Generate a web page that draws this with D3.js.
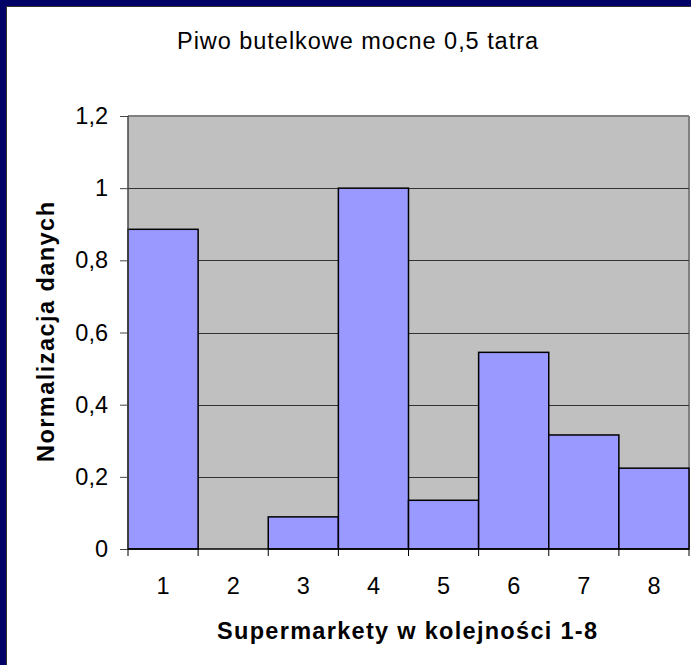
<!DOCTYPE html>
<html><head><meta charset="utf-8">
<script src="https://cdn.jsdelivr.net/npm/d3@7"></script>
<style>body{margin:0;padding:0;background:#fff;overflow:hidden}</style>
</head><body>
<svg id="c" width="691" height="665"></svg>
<script>
const categories = ["1","2","3","4","5","6","7","8"];
const values = [0.886, 0, 0.089, 1.0, 0.135, 0.545, 0.316, 0.224];
const yTicks = [0, 0.2, 0.4, 0.6, 0.8, 1.0, 1.2];
const title = "Piwo butelkowe mocne 0,5 tatra";
const xTitle = "Supermarkety w kolejności 1-8";
const yTitle = "Normalizacja danych";

const svg = d3.select("#c");
const font = "Arial, 'Liberation Sans', sans-serif";
svg.append("rect").attr("x",0).attr("y",0).attr("width",691).attr("height",665).attr("fill","#000066");
svg.append("rect").attr("x",6.5).attr("y",6.5).attr("width",700).attr("height",700).attr("fill","#fff").attr("stroke","#333").attr("stroke-width",1);

const L=128, R=689, T=116, B=549;
const x = d3.scaleBand().domain(categories).range([L,R]).padding(0);
const y = d3.scaleLinear().domain([0,1.2]).range([B,T]);

svg.append("rect").attr("x",L).attr("y",T).attr("width",R-L).attr("height",B-T).attr("fill","#C0C0C0");
svg.append("line").attr("x1",L).attr("x2",R).attr("y1",T).attr("y2",T).attr("stroke","#808080").attr("stroke-width",2);
svg.append("line").attr("x1",R).attr("x2",R).attr("y1",T).attr("y2",B).attr("stroke","#808080").attr("stroke-width",2);

// gridlines
svg.append("g").selectAll("line").data(yTicks.filter(d=>d>0 && d<1.2)).join("line")
  .attr("x1",L).attr("x2",R).attr("y1",d=>Math.round(y(d))+0.5).attr("y2",d=>Math.round(y(d))+0.5)
  .attr("stroke","#333").attr("stroke-width",1);

// bars
svg.append("g").selectAll("rect").data(values).join("rect")
  .attr("x",(d,i)=>x(categories[i])).attr("width",x.bandwidth())
  .attr("y",d=>y(d)).attr("height",d=>B-y(d))
  .attr("fill","#9999FF").attr("stroke","#000").attr("stroke-width",1.5);

// y axis
const yAxis = d3.axisLeft(y).tickValues(yTicks).tickSize(8).tickPadding(12)
  .tickFormat(d=>d3.format(".1~f")(d).replace(".",","));
const gy = svg.append("g").attr("transform",`translate(${L},0)`).call(yAxis);
gy.select(".domain").attr("stroke","#444").attr("stroke-width",1.5).attr("d",`M0,${T}V${B}`);
gy.selectAll(".tick line").attr("stroke","#444");
gy.selectAll(".tick text").attr("font-family",font).attr("font-size",23.5).attr("fill","#000");

// x axis
const gx = svg.append("g").attr("transform",`translate(0,${B})`);
gx.append("line").attr("x1",L).attr("x2",R).attr("y1",0).attr("y2",0).attr("stroke","#000").attr("stroke-width",1.5);
gx.selectAll("line.tk").data(categories.concat(["end"])).join("line").attr("class","tk")
  .attr("x1",(d,i)=>i<categories.length? x(d): R).attr("x2",(d,i)=>i<categories.length? x(d): R)
  .attr("y1",0).attr("y2",7).attr("stroke","#000");
gx.selectAll("text").data(categories).join("text")
  .attr("x",d=>x(d)+x.bandwidth()/2).attr("y",45).attr("text-anchor","middle")
  .attr("font-family",font).attr("font-size",23.5).text(d=>d);

svg.append("text").attr("x",357.5).attr("y",48.5).attr("text-anchor","middle")
  .attr("font-family",font).attr("font-size",23.5)
  .attr("textLength",361).attr("lengthAdjust","spacing").text(title);
svg.append("text").attr("x",407).attr("y",639).attr("text-anchor","middle")
  .attr("font-family",font).attr("font-size",23.5).attr("font-weight","bold")
  .attr("textLength",380).attr("lengthAdjust","spacing").text(xTitle);
svg.append("text").attr("transform","translate(54,332) rotate(-90)").attr("text-anchor","middle")
  .attr("font-family",font).attr("font-size",23.5).attr("font-weight","bold")
  .attr("textLength",260).attr("lengthAdjust","spacing").text(yTitle);
</script>
</body></html>
